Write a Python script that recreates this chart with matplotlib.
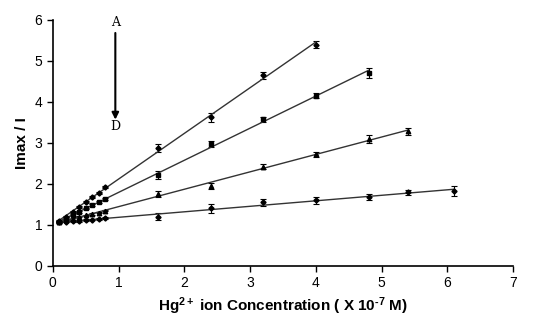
import matplotlib.pyplot as plt
import numpy as np

plt.rcParams['font.family'] = ['Liberation Sans', 'DejaVu Sans']
plt.rcParams['mathtext.fontset'] = 'custom'
plt.rcParams['mathtext.rm'] = 'Liberation Sans:bold'
plt.rcParams['mathtext.it'] = 'Liberation Sans:bold'
plt.rcParams['mathtext.bf'] = 'Liberation Sans:bold'

# concentrations (x 10^-7 M)
x_low = [0.1, 0.2, 0.3, 0.4, 0.5, 0.6, 0.7, 0.8]
x_a = x_low + [1.6, 2.4, 3.2, 4.0]
x_b = x_low + [1.6, 2.4, 3.2, 4.0, 4.8]
x_c = x_low + [1.6, 2.4, 3.2, 4.0, 4.8, 5.4]
x_d = x_low + [1.6, 2.4, 3.2, 4.0, 4.8, 5.4, 6.1]

# Imax / I
y_a = [1.10, 1.20, 1.32, 1.44, 1.56, 1.68, 1.78, 1.92, 2.87, 3.62, 4.65, 5.40]
y_b = [1.08, 1.15, 1.24, 1.32, 1.40, 1.48, 1.56, 1.63, 2.22, 2.97, 3.58, 4.15, 4.70]
y_c = [1.07, 1.11, 1.15, 1.20, 1.23, 1.27, 1.30, 1.35, 1.75, 1.95, 2.42, 2.72, 3.10, 3.28]
y_d = [1.06, 1.08, 1.09, 1.10, 1.12, 1.13, 1.14, 1.16, 1.20, 1.40, 1.55, 1.60, 1.68, 1.80, 1.82]

# error bars
e_a = [0.02] * 8 + [0.10, 0.10, 0.08, 0.08]
e_b = [0.02] * 8 + [0.10, 0.08, 0.06, 0.06, 0.12]
e_c = [0.02] * 8 + [0.08, 0.08, 0.06, 0.06, 0.10, 0.08]
e_d = [0.02] * 8 + [0.08, 0.10, 0.08, 0.08, 0.08, 0.06, 0.12]

series = [(x_a, y_a, e_a, 'D', 2.6), (x_b, y_b, e_b, 's', 3),
          (x_c, y_c, e_c, '^', 3.2), (x_d, y_d, e_d, 'D', 2.6)]

fig = plt.figure(figsize=(5.34, 3.27), dpi=100)
ax = fig.add_axes([0.099, 0.187, 0.862, 0.752])

for xs, ys, es, mk, ms in series:
    ax.errorbar(xs, ys, yerr=es, fmt=mk, color='black', ms=ms,
                elinewidth=0.8, capsize=2, capthick=0.8)
    k, b = np.polyfit(xs, ys, 1)
    xl = np.array([xs[0], xs[-1]])
    ax.plot(xl, k * xl + b, color='#333333', lw=1)

ax.text(0.95, 5.93, 'A', ha='center', va='center', fontsize=9, family='DejaVu Serif')
ax.text(0.95, 3.4, 'D', ha='center', va='center', fontsize=9, family='DejaVu Serif')
ax.annotate('', xy=(0.95, 3.5), xytext=(0.95, 5.75),
            arrowprops=dict(arrowstyle='-|>', color='black', lw=1.5, mutation_scale=10))

ax.set_xlim(0, 7)
ax.set_ylim(0, 6)
ax.set_xticks(range(8))
ax.set_yticks(range(7))
for s in ['top', 'right']:
    ax.spines[s].set_visible(False)
ax.spines['left'].set_linewidth(1.2)
ax.spines['bottom'].set_linewidth(1.2)
ax.tick_params(labelsize=10, width=1, length=4)
ax.set_xlabel('Hg$^{2+}$ ion Concentration ( X 10$^{\u2010 7}$ M)', fontsize=11, fontweight='bold')
ax.set_ylabel('Imax / I', fontsize=11, fontweight='bold')

plt.savefig('out.png', dpi=100)
